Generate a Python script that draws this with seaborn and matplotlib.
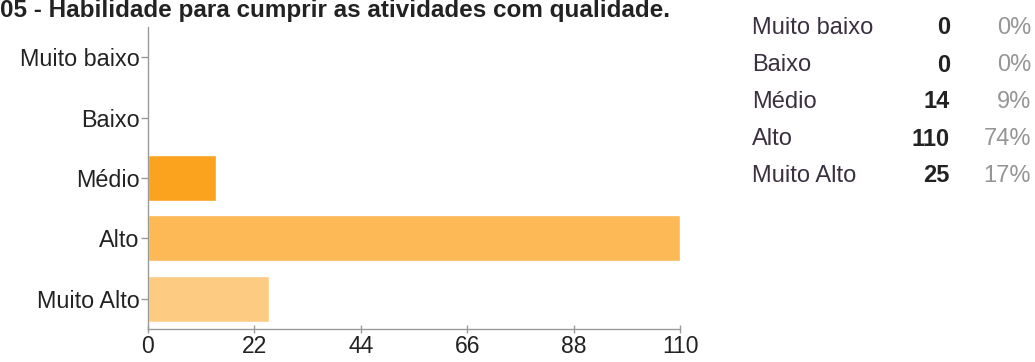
import matplotlib
matplotlib.use("Agg")
import matplotlib.pyplot as plt
import seaborn as sns
import pandas as pd

# data
categories = ["Muito baixo", "Baixo", "Médio", "Alto", "Muito Alto"]
counts = [0, 0, 14, 110, 25]
percents = ["0%", "0%", "9%", "74%", "17%"]
bar_colors = ["#FB9A1A", "#FC9F22", "#FBA21F", "#FDB955", "#FECB83"]
x_ticks = [0, 22, 44, 66, 88, 110]
title = "05 - Habilidade para cumprir as atividades com qualidade."

df = pd.DataFrame({"categoria": categories, "n": counts})

sns.set_style("white")
plt.rcParams["font.family"] = ["Liberation Sans", "DejaVu Sans"]

fig = plt.figure(figsize=(10.35, 3.62), dpi=100)
ax = fig.add_axes([148 / 1035, 33 / 362, 532 / 1035, 302 / 362])

sns.barplot(data=df, y="categoria", x="n", hue="categoria", palette=bar_colors,
            order=categories, orient="h", width=0.76, legend=False,
            saturation=1, ax=ax)

ax.set_xlim(0, 110)
ax.set_ylim(4.5, -0.5)
ax.set_xticks(x_ticks)
ax.set_xlabel("")
ax.set_ylabel("")
for s in ["top", "right"]:
    ax.spines[s].set_visible(False)
for s in ["left", "bottom"]:
    ax.spines[s].set_color("#9a9a9a")
    ax.spines[s].set_linewidth(1)
ax.tick_params(axis="y", length=5, width=1, color="#9a9a9a", labelsize=16.8,
               labelcolor="#222222", pad=1, left=True)
ax.tick_params(axis="x", length=6, width=1, color="#9a9a9a", direction="inout",
               labelsize=16.5, labelcolor="#222222", pad=1, bottom=True)

# title at the very top
fig.text(0.0, 1 - 17 / 362, title, fontsize=17.5, fontweight="bold",
         color="#222222", ha="left", va="baseline")

# summary table on the right
for i, (cat, n, p) in enumerate(zip(categories, counts, percents)):
    y = 1 - (28 + 37 * i) / 362
    fig.text(752 / 1035, y, cat, fontsize=17, color="#3a3040", ha="left", va="center")
    fig.text(950 / 1035, y, str(n), fontsize=17, fontweight="bold",
             color="#222222", ha="right", va="center")
    fig.text(1031 / 1035, y, p, fontsize=17, color="#959595", ha="right", va="center")

fig.savefig("out.png", dpi=100)
